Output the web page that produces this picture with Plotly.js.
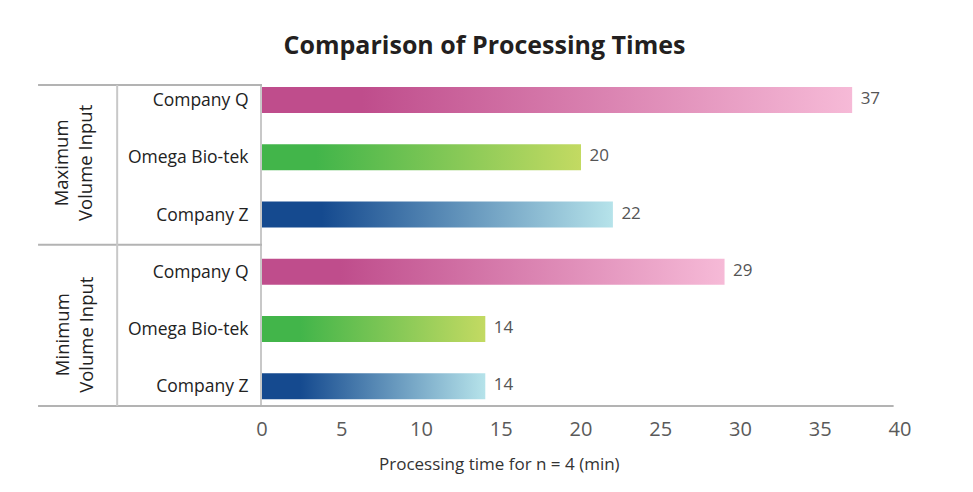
<!DOCTYPE html>
<html>
<head>
<meta charset="utf-8">
<script src="https://cdn.plot.ly/plotly-3.0.1.min.js"></script>
<style>
  html, body { margin: 0; padding: 0; background: #fff; }
  #chart { width: 973px; height: 492px; }
</style>
</head>
<body>
<div id="chart"></div>
<script>
// data
const groups = ['Maximum<br>Volume Input', 'Minimum<br>Volume Input'];
const companies = ['Company Q', 'Omega Bio-tek', 'Company Z'];
const maxTimes = [37, 20, 22];
const minTimes = [29, 14, 14];
const xTickVals = [0, 5, 10, 15, 20, 25, 30, 35, 40];

// gradient colours per company (dark start -> light end)
const barColors = [
  ['#bf4d8c', '#f6bad7'],
  ['#42b54a', '#c3da62'],
  ['#154a8f', '#b6e3ea'],
];

const FONT = '"Open Sans", "DejaVu Sans", sans-serif';
const barHalf = 0.227;

// one row per bar, top to bottom
const rows = [];
[maxTimes, minTimes].forEach((vals, g) => {
  vals.forEach((v, i) => rows.push({ value: v, company: companies[i], color: barColors[i], group: g }));
});
const yPos = rows.map((r, i) => i);

const traces = rows.map((r, i) => ({
  type: 'scatter',
  mode: 'lines',
  x: [0, r.value, r.value, 0, 0],
  y: [i - barHalf, i - barHalf, i + barHalf, i + barHalf, i - barHalf],
  fill: 'toself',
  line: { width: 0 },
  fillgradient: {
    type: 'horizontal',
    colorscale: [[0, r.color[0]], [0.17, r.color[0]], [1, r.color[1]]],
  },
  hoverinfo: 'skip',
  showlegend: false,
}));

// value labels (invisible marker pushes the text off the bar end)
traces.push({
  type: 'scatter',
  mode: 'markers+text',
  x: rows.map(r => r.value),
  y: yPos,
  text: rows.map(r => String(r.value)),
  textposition: 'middle right',
  marker: { size: 12, color: 'rgba(0,0,0,0)' },
  textfont: { family: FONT, size: 17, color: '#555' },
  cliponaxis: false,
  hoverinfo: 'skip',
  showlegend: false,
});

// group labels + divider lines
const annotations = groups.map((g, k) => ({
  text: g,
  xref: 'paper', yref: 'y',
  x: -0.296, xanchor: 'center',
  y: k * 3 + 1.1, yanchor: 'middle',
  textangle: -90,
  showarrow: false,
  align: 'center',
  font: { family: FONT, size: 18.5, color: '#222' },
}));

annotations.push({
  text: 'Processing time for n = 4 (min)',
  xref: 'paper', yref: 'paper',
  x: 0.373, xanchor: 'center',
  y: -0.18, yanchor: 'middle',
  showarrow: false,
  font: { family: FONT, size: 17, color: '#333' },
});

const lineStyle = { color: '#b3b3b3', width: 2 };
const shapes = [
  { type: 'line', xref: 'paper', yref: 'paper', x0: -0.351, x1: 0, y0: 1, y1: 1, line: lineStyle },
  { type: 'line', xref: 'paper', yref: 'y', x0: -0.351, x1: 0, y0: 2.53, y1: 2.53, line: lineStyle },
  { type: 'line', xref: 'paper', yref: 'paper', x0: -0.351, x1: 0.99, y0: 0, y1: 0, line: lineStyle },
  { type: 'line', xref: 'paper', yref: 'paper', x0: -0.227, x1: -0.227, y0: 0, y1: 1, line: { color: '#c8c8c8', width: 2 } },
];

const layout = {
  width: 973,
  height: 492,
  margin: { l: 262, r: 73, t: 85, b: 86 },
  paper_bgcolor: '#fff',
  plot_bgcolor: '#fff',
  title: {
    text: '<b>Comparison of Processing Times</b>',
    x: 0.498, xref: 'container', xanchor: 'center',
    y: 0.909, yref: 'container', yanchor: 'middle',
    font: { family: FONT, size: 25, color: '#231f20' },
  },
  xaxis: {
    range: [0, 40],
    tickvals: xTickVals,
    showgrid: false,
    zeroline: false,
    showline: false,
    ticks: '',
    ticklabelstandoff: 9,
    tickfont: { family: FONT, size: 20, color: '#5a5a5a' },
    fixedrange: true,
  },
  yaxis: {
    range: [5.346, -0.26],
    tickvals: yPos,
    ticktext: rows.map(r => r.company),
    showgrid: false,
    zeroline: false,
    showline: true,
    linecolor: '#c8c8c8',
    linewidth: 2,
    ticks: '',
    ticklabelstandoff: 8,
    tickfont: { family: FONT, size: 17.5, color: '#222' },
    fixedrange: true,
  },
  annotations: annotations,
  shapes: shapes,
  showlegend: false,
};

Plotly.newPlot('chart', traces, layout, { displayModeBar: false, staticPlot: true });
</script>
</body>
</html>
